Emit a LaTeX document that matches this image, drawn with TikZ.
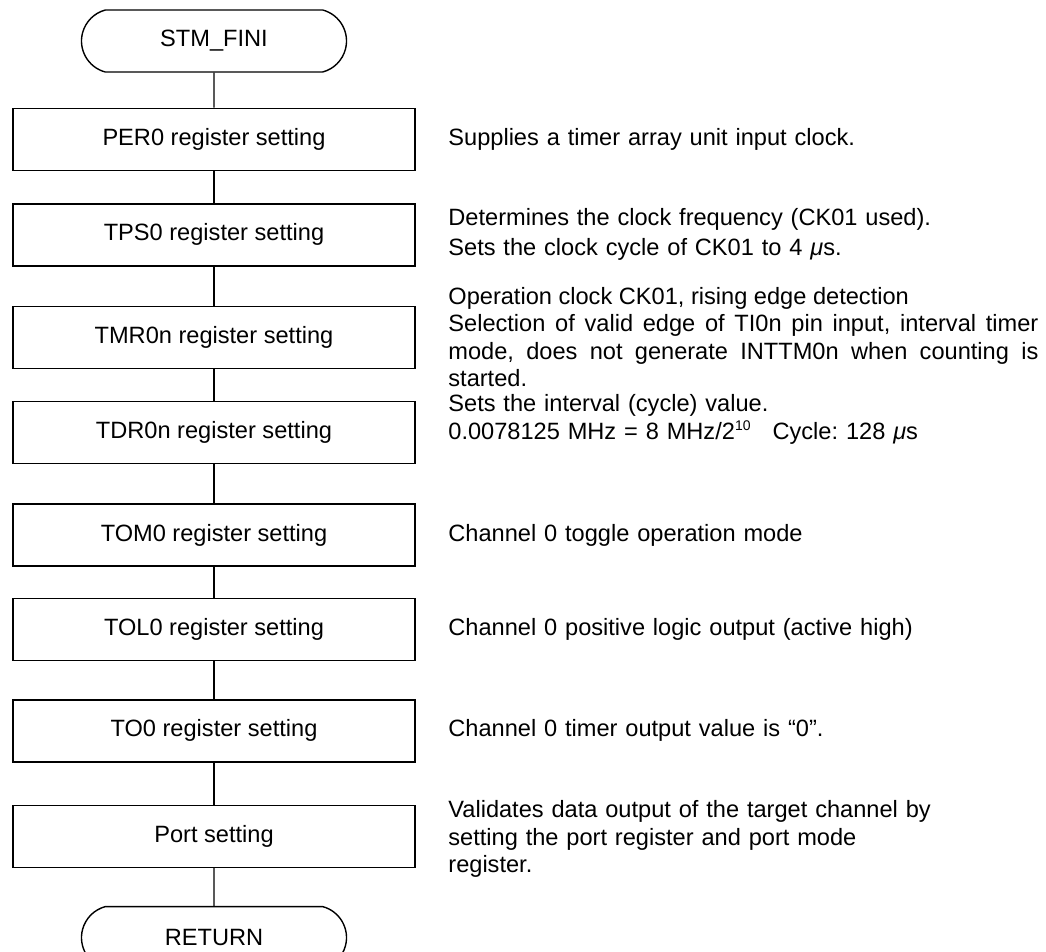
\documentclass[tikz,border=0pt]{standalone}
\usepackage{fontspec}
\setmainfont{Liberation Sans}
\usetikzlibrary{positioning,shapes.misc}
\tolerance=9999
\frenchspacing

\tikzset{
  regbox/.style={draw, line width=1.4pt, minimum width=402pt, minimum height=62pt, inner sep=0pt},
  termbox/.style={draw, line width=1.4pt, rounded rectangle, rounded rectangle arc length=150, minimum width=265pt, minimum height=62pt, inner sep=0pt},
  remark/.style={right=32pt of #1, text width=590pt, align=left, inner sep=0pt},
}

\begin{document}
\begin{tikzpicture}[font=\fontsize{23.6}{27.5}\selectfont, line width=1.4pt]
  \useasboundingbox (0,0) rectangle (1046pt,-951pt);
  % flow of the routine
  \node [termbox] (stm) at (214pt,-41pt) {STM\_FINI};
  \node [regbox, below=35pt of stm] (per0) {PER0 register setting};
  \node [regbox, below=32pt of per0] (tps0) {TPS0 register setting};
  \node [regbox, below=39pt of tps0] (tmr) {TMR0n register setting};
  \node [regbox, below=32pt of tmr] (tdr) {TDR0n register setting};
  \node [regbox, below=39pt of tdr] (tom) {TOM0 register setting};
  \node [regbox, below=31pt of tom] (tol) {TOL0 register setting};
  \node [regbox, below=38pt of tol] (tozero) {TO0 register setting};
  \node [regbox, below=42pt of tozero] (port) {Port setting};
  \node [termbox, below=38pt of port] (ret) {RETURN};
  \foreach \a/\b in {stm/per0, per0/tps0, tps0/tmr, tmr/tdr, tdr/tom, tom/tol, tol/tozero, tozero/port, port/ret}
    \draw (\a) -- (\b);
  % remarks
  \node [remark=per0] (nper0) {Supplies a timer array unit input clock.};
  \node [remark=tps0] (ntps0) {Determines the clock frequency (CK01 used).\\[2.5pt]
    Sets the clock cycle of CK01 to 4 {\itshape μ}s.};
  \node [remark=tmr, align=justify] (ntmr) {Operation clock CK01, rising edge detection\\
    Selection of valid edge of TI0n pin input, interval timer mode, does not generate INTTM0n when counting is started.};
  \node [remark=tdr, yshift=13pt] (ntdr) {Sets the interval (cycle) value.\\
    0.0078125 MHz = 8 MHz/2\raisebox{9pt}{\fontsize{14}{14}\selectfont 10}\hspace{22pt}Cycle: 128 {\itshape μ}s};
  \node [remark=tom] (ntom) {Channel 0 toggle operation mode};
  \node [remark=tol] (ntol) {Channel 0 positive logic output (active high)};
  \node [remark=tozero] (ntozero) {Channel 0 timer output value is “0”.};
  \node [remark=port, yshift=-3pt] (nport) {Validates data output of the target channel by\\
    setting the port register and port mode\\
    register.};
\end{tikzpicture}
\end{document}
